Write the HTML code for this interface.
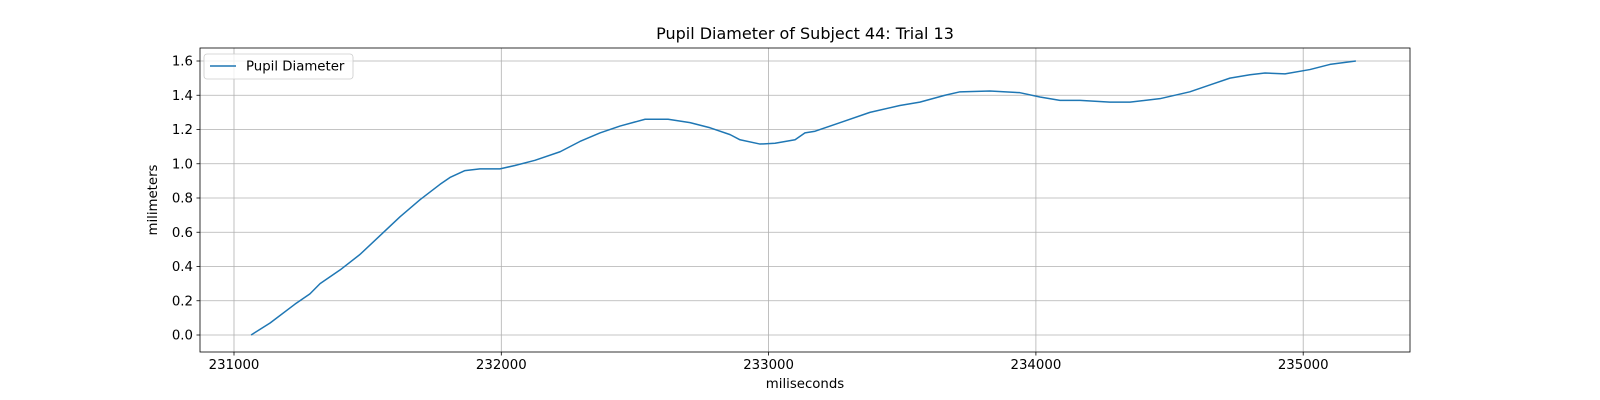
<!DOCTYPE html>
<html><head><meta charset="utf-8"><style>
body{margin:0;background:#fff}
svg{display:block;font-family:"DejaVu Sans","Liberation Sans",sans-serif}
</style></head><body>
<svg id="c" width="1600" height="400"></svg>
<script>
const xs=[231064,231135,231228,231284,231322,231397,231471,231546,231621,231696,231771,231808,231864,231920,231995,232051,232126,232220,232294,232369,232444,232538,232624,232706,232781,232856,232893,232968,233024,233099,233136,233174,233267,233379,233491,233566,233660,233716,233828,233940,234015,234090,234165,234277,234352,234464,234576,234651,234726,234801,234857,234932,235025,235100,235197];
const ys=[0,0.07,0.18,0.24,0.30,0.38,0.47,0.58,0.69,0.79,0.88,0.92,0.96,0.97,0.97,0.99,1.02,1.07,1.13,1.18,1.22,1.26,1.26,1.24,1.21,1.17,1.14,1.115,1.12,1.14,1.18,1.19,1.24,1.30,1.34,1.36,1.40,1.42,1.425,1.415,1.39,1.37,1.37,1.36,1.36,1.38,1.42,1.46,1.50,1.52,1.53,1.525,1.55,1.58,1.60];
const xTicks=[231000,232000,233000,234000,235000];
const yTicks=[0,0.2,0.4,0.6,0.8,1.0,1.2,1.4,1.6];
const L=200,R=1410,T=48,B=352;
const X=v=>234+(v-231000)*0.2673;
const Y=v=>335-v*171.25;
const s=document.getElementById('c'),NS='http://www.w3.org/2000/svg';
function mk(t,a,p){const e=document.createElementNS(NS,t);for(const k in a)e.setAttribute(k,a[k]);(p||s).appendChild(e);return e;}
mk('rect',{x:0,y:0,width:1600,height:400,fill:'#fff'});
xTicks.forEach(v=>{const x=X(v);
 const g=mk('line',{x1:x,x2:x,y1:T,y2:B,stroke:'#b0b0b0','stroke-width':0.8});
 
 
 mk('line',{x1:x,x2:x,y1:B,y2:B+3.5,stroke:'#000','stroke-width':0.8});
 const t=mk('text',{x:x,y:B+17,'text-anchor':'middle','font-size':13.3});t.textContent=v;
 
 
});
yTicks.forEach(v=>{const y=Y(v);
 const g=mk('line',{x1:L,x2:R,y1:y,y2:y,stroke:'#b0b0b0','stroke-width':0.8});
 
 
 mk('line',{x1:L-3.5,x2:L,y1:y,y2:y,stroke:'#000','stroke-width':0.8});
 const t=mk('text',{x:L-7,y:y+4.5,'text-anchor':'end','font-size':13.3});t.textContent=v.toFixed(1);
 
 
});
const p=mk('polyline',{points:xs.map((v,i)=>X(v)+','+Y(ys[i])).join(' '),fill:'none',stroke:'#1f77b4','stroke-width':1.5,'stroke-linejoin':'round'});


const f=mk('rect',{x:L,y:T,width:R-L,height:B-T,fill:'none',stroke:'#000','stroke-width':0.8});


const ti=mk('text',{x:805,y:39,'text-anchor':'middle','font-size':16});ti.textContent='Pupil Diameter of Subject 44: Trial 13';


const xl=mk('text',{x:805,y:388,'text-anchor':'middle','font-size':13.3});xl.textContent='miliseconds';


const yl=mk('text',{x:157,y:200,'text-anchor':'middle','font-size':13.3,transform:'rotate(-90 157 200)'});yl.textContent='milimeters';


const lg=mk('g',{});


mk('rect',{x:204,y:54,width:149,height:25,rx:3,fill:'#fff','fill-opacity':0.8,stroke:'#ccc','stroke-width':0.8},lg);
mk('line',{x1:210,x2:236,y1:66,y2:66,stroke:'#1f77b4','stroke-width':1.5},lg);
const lt=mk('text',{x:246,y:70.5,'font-size':13.3},lg);lt.textContent='Pupil Diameter';


</script>
</body></html>
